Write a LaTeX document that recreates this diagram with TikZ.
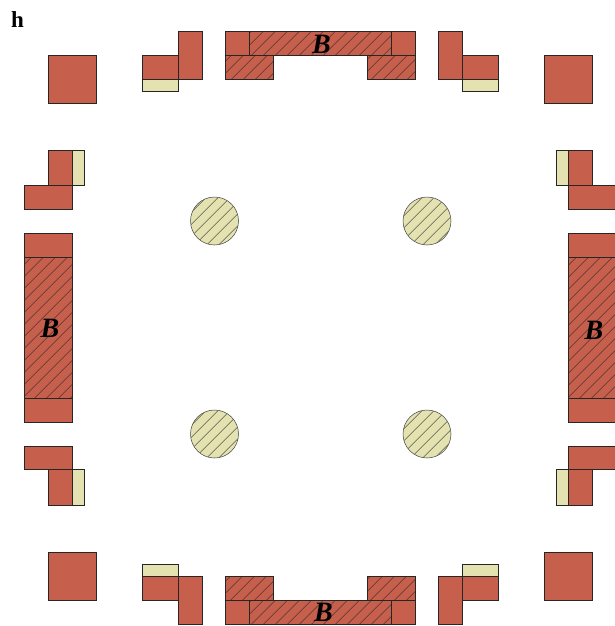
\documentclass[tikz,border=0pt]{standalone}
\usepackage{fontspec}
\setmainfont{Liberation Serif}
\definecolor{brick}{HTML}{C65F4C}
\definecolor{sand}{HTML}{E4E2B0}
\tikzset{
  brickbox/.style={fill=brick,draw=black!85,line width=0.6pt},
  sandbox/.style={fill=sand,draw=black!85,line width=0.6pt},
  hatchline/.style={draw=black!85,line width=0.45pt},
  bigb/.style={font=\fontsize{28}{28}\selectfont\bfseries\itshape,inner sep=0pt},
  paneltag/.style={font=\fontsize{23}{23}\selectfont\bfseries,inner sep=0pt}
}
% hatched rectangle: corners, then phase of the diagonal lines
\newcommand{\hatchbox}[5]{%
  \fill[brick] (#1,#2) rectangle (#3,#4);
  \begin{scope}
    \clip ({#1+0.4},{#2+0.4}) rectangle ({#3-0.4},{#4-0.4});
    \foreach \k in {0,...,100}{
      \draw[hatchline] ({12*\k+mod(#5,12)-700},700) -- ({12*\k+mod(#5,12)},0);
    }
  \end{scope}
  \draw[brickbox,fill=none] (#1,#2) rectangle (#3,#4);
}
\newcommand{\hatchdisc}[3]{%
  \fill[sand] (#1,#2) circle [radius=24pt];
  \begin{scope}
    \clip (#1,#2) circle [radius=23.7pt];
    \foreach \k in {0,...,100}{
      \draw[hatchline] ({12*\k+#3-700},700) -- ({12*\k+#3},0);
    }
  \end{scope}
  \draw[black!75,line width=0.5pt] (#1,#2) circle [radius=24pt];
}
\begin{document}
\begin{tikzpicture}[x=1pt,y=-1pt]
\useasboundingbox (0,0) rectangle (614,626);
\begin{scope}[shift={(-0.3,-0.05)}]
% corner squares
\draw[brickbox] (49,55) rectangle (97,103);
\draw[brickbox] (545,55) rectangle (593,103);
\draw[brickbox] (49,552) rectangle (97,600);
\draw[brickbox] (545,552) rectangle (593,600);
% top left / right L
\draw[sandbox] (143,79) rectangle (179,91);
\draw[brickbox] (143,55) rectangle (179,79);
\draw[brickbox] (179,31) rectangle (203,79);
\draw[sandbox] (463,79) rectangle (499,91);
\draw[brickbox] (439,31) rectangle (463,79);
\draw[brickbox] (463,55) rectangle (499,79);
% bottom left / right L
\draw[sandbox] (143,564) rectangle (179,576);
\draw[brickbox] (143,576) rectangle (179,600);
\draw[brickbox] (179,576) rectangle (203,624);
\draw[sandbox] (463,564) rectangle (499,576);
\draw[brickbox] (439,576) rectangle (463,624);
\draw[brickbox] (463,576) rectangle (499,600);
% left L
\draw[sandbox] (73,150) rectangle (85,185);
\draw[brickbox] (49,150) rectangle (73,185);
\draw[brickbox] (25,185) rectangle (73,209);
\draw[sandbox] (73,469) rectangle (85,505);
\draw[brickbox] (49,469) rectangle (73,505);
\draw[brickbox] (25,446) rectangle (73,469);
% right L
\draw[sandbox] (557,150) rectangle (569,185);
\draw[brickbox] (569,150) rectangle (593,185);
\draw[brickbox] (569,185) rectangle (618,209);
\draw[sandbox] (557,469) rectangle (569,505);
\draw[brickbox] (569,469) rectangle (593,505);
\draw[brickbox] (569,446) rectangle (618,469);
% top bar
\hatchbox{226}{55}{274}{79}{311}
\hatchbox{368}{55}{416}{79}{451}
\draw[brickbox] (226,31) rectangle (250,55);
\draw[brickbox] (392,31) rectangle (416,55);
\hatchbox{250}{31}{392}{55}{307}
% bottom bar
\hatchbox{226}{576}{274}{600}{831}
\hatchbox{368}{576}{416}{600}{971}
\draw[brickbox] (226,600) rectangle (250,624);
\draw[brickbox] (392,600) rectangle (416,624);
\hatchbox{250}{600}{392}{624}{876}
% left bar
\draw[brickbox] (25,233) rectangle (73,257);
\draw[brickbox] (25,398) rectangle (73,422);
\hatchbox{25}{257}{73}{398}{313}
% right bar
\draw[brickbox] (569,233) rectangle (618,257);
\draw[brickbox] (569,398) rectangle (618,422);
\hatchbox{569}{257}{618}{398}{858}
% discs
\hatchdisc{214.8}{221.05}{8}
\hatchdisc{427.3}{221.05}{8}
\hatchdisc{214.8}{434.05}{5}
\hatchdisc{427.3}{434.05}{5}
\end{scope}
% labels
\node[paneltag] (tag) at (17.5,20) {h};
\node[bigb] (bt) at (321.5,44) {B};
\node[bigb] (bb) at (323.5,612) {B};
\node[bigb] (bl) at (50,328.5) {B};
\node[bigb] (br) at (594,330) {B};
\end{tikzpicture}
\end{document}
